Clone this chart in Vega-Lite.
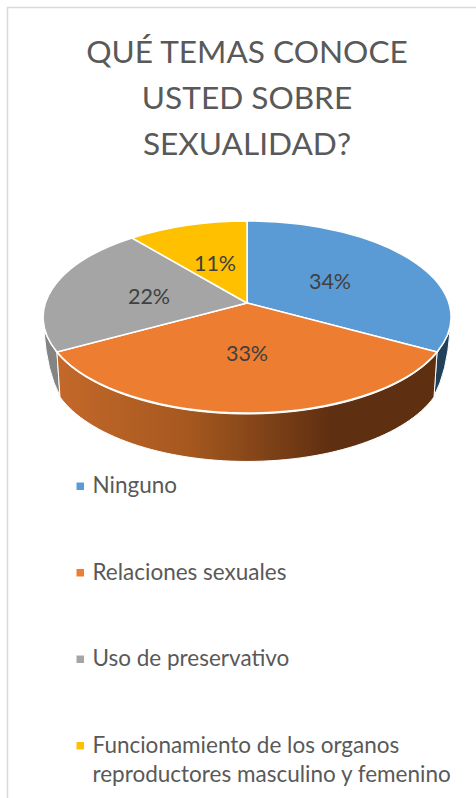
{
"$schema":"https://vega.github.io/schema/vega-lite/v6.json",
"width":458,"height":294,
"autosize":{"type":"none"},
"padding":{"left":18,"top":170,"right":0,"bottom":334},
"background":"white",
"view":{"stroke":null},
"title":{"text":["QUÉ TEMAS CONOCE","USTED SOBRE","SEXUALIDAD?"],"orient":"top","anchor":"middle","frame":"group","font":"Lato","fontSize":31.6,"fontWeight":"normal","color":"#595959","lineHeight":46,"offset":-157},
"data":{"values":[
{"tema":"Ninguno","pct":0.34},
{"tema":"Relaciones sexuales","pct":0.33},
{"tema":"Uso de preservativo","pct":0.22},
{"tema":"Funcionamiento de los organos reproductores masculino y femenino","pct":0.11}
]},
"encoding":{"color":{"field":"tema","type":"nominal","sort":null,"scale":{
    "domain":["Ninguno","Relaciones sexuales","Uso de preservativo","Funcionamiento de los organos reproductores masculino y femenino"],
    "range":["#5b9bd5","#ed7d31","#a5a5a5","#ffc000"]},
   "legend":{"orient":"none","legendX":51,"legendY":305,"title":null,"symbolType":"square","symbolSize":56,"symbolStrokeWidth":0,"symbolOpacity":1,
    "labelFont":"Lato","labelFontSize":22.5,"labelColor":"#595959","labelLimit":500,"labelOffset":1,"rowPadding":63.5,
    "encoding":{"labels":{"lineHeight":{"value":29}}},
    "labelExpr":"indexof(datum.label,'Funcionamiento')==0?['Funcionamiento de los organos','reproductores masculino y femenino']:datum.label"}}},
"layer":[
{"transform":[{"filter":"datum.tema==='Ninguno'"}],
 "mark":{"type":"point","filled":false,"opacity":1,"size":4,"strokeWidth":1.5,"stroke":"#d9d9d9","shape":"M-239.5 481 L-239.5 -309.5 L229 -309.5"},"encoding":{"color":{"value":"#d9d9d9"}}},
{"transform":[{"filter":"datum.tema==='Ninguno'"}],
 "mark":{"type":"point","filled":true,"opacity":1,"size":4,"stroke":"white","strokeWidth":1,"shape":"M190 36 Q197 26 203 14 Q200 55 187 79 Z"},"encoding":{"color":{"value":"#21405a"}}},
{"transform":[{"filter":"datum.tema==='Uso de preservativo'"}],
 "mark":{"type":"point","filled":true,"opacity":1,"size":4,"stroke":"white","strokeWidth":1,"shape":"M-190 36 Q-197 26 -203 14 Q-200 55 -187 79 Z"},"encoding":{"color":{"value":"#848484"}}},
{"transform":[{"filter":"datum.tema==='Relaciones sexuales'"}],
 "mark":{"type":"point","filled":true,"opacity":1,"size":4,"stroke":"white","strokeWidth":1,
  "fill":{"gradient":"linear","x1":0,"y1":0,"x2":1,"y2":0,"stops":[{"offset":0,"color":"#c4682a"},{"offset":0.35,"color":"#a5581f"},{"offset":0.72,"color":"#5f2f11"},{"offset":1,"color":"#5f2f11"}]},
  "shape":"M-190 36 A204 96 0 0 0 190 36 L187 80 A198 96 0 0 1 -187 80 Z"},"encoding":{"color":{"value":null}}},
{"mark":{"type":"point","filled":true,"opacity":1,"size":0}},
{"transform":[{"filter":"datum.tema==='Ninguno'"}],"mark":{"type":"point","filled":true,"opacity":1,"size":4,"stroke":"white","strokeWidth":1.5,"shape":"M0 -14 L0 -96 A204 96 0 0 1 190 35 Z"},"encoding":{"color":{"field":"tema","type":"nominal","sort":null,"legend":null}}},
{"transform":[{"filter":"datum.tema==='Relaciones sexuales'"}],"mark":{"type":"point","filled":true,"opacity":1,"size":4,"stroke":"white","strokeWidth":1.5,"shape":"M0 -14 L190 35 A204 96 0 0 1 -190 35 Z"},"encoding":{"color":{"field":"tema","type":"nominal","sort":null,"legend":null}}},
{"transform":[{"filter":"datum.tema==='Uso de preservativo'"}],"mark":{"type":"point","filled":true,"opacity":1,"size":4,"stroke":"white","strokeWidth":1.5,"shape":"M0 -14 L-190 35 A204 96 0 0 1 -115 -79 Z"},"encoding":{"color":{"field":"tema","type":"nominal","sort":null,"legend":null}}},
{"transform":[{"filter":"indexof(datum.tema,'Funcionamiento')==0"}],"mark":{"type":"point","filled":true,"opacity":1,"size":4,"stroke":"white","strokeWidth":1.5,"shape":"M0 -14 L-115 -79 A204 96 0 0 1 0 -96 Z"},"encoding":{"color":{"field":"tema","type":"nominal","sort":null,"legend":null}}},
{"transform":[{"filter":"datum.tema==='Ninguno'"}],"mark":{"type":"text","font":"Lato","fontSize":21.5,"xOffset":83,"yOffset":-34},"encoding":{"color":{"value":"#404040"},"text":{"field":"pct","type":"quantitative","format":".0%"}}},
{"transform":[{"filter":"datum.tema==='Relaciones sexuales'"}],"mark":{"type":"text","font":"Lato","fontSize":21.5,"xOffset":0,"yOffset":38},"encoding":{"color":{"value":"#404040"},"text":{"field":"pct","type":"quantitative","format":".0%"}}},
{"transform":[{"filter":"datum.tema==='Uso de preservativo'"}],"mark":{"type":"text","font":"Lato","fontSize":21.5,"xOffset":-98,"yOffset":-19},"encoding":{"color":{"value":"#404040"},"text":{"field":"pct","type":"quantitative","format":".0%"}}},
{"transform":[{"filter":"indexof(datum.tema,'Funcionamiento')==0"}],"mark":{"type":"text","font":"Lato","fontSize":21.5,"xOffset":-32,"yOffset":-52},"encoding":{"color":{"value":"#404040"},"text":{"field":"pct","type":"quantitative","format":".0%"}}}
]
}
